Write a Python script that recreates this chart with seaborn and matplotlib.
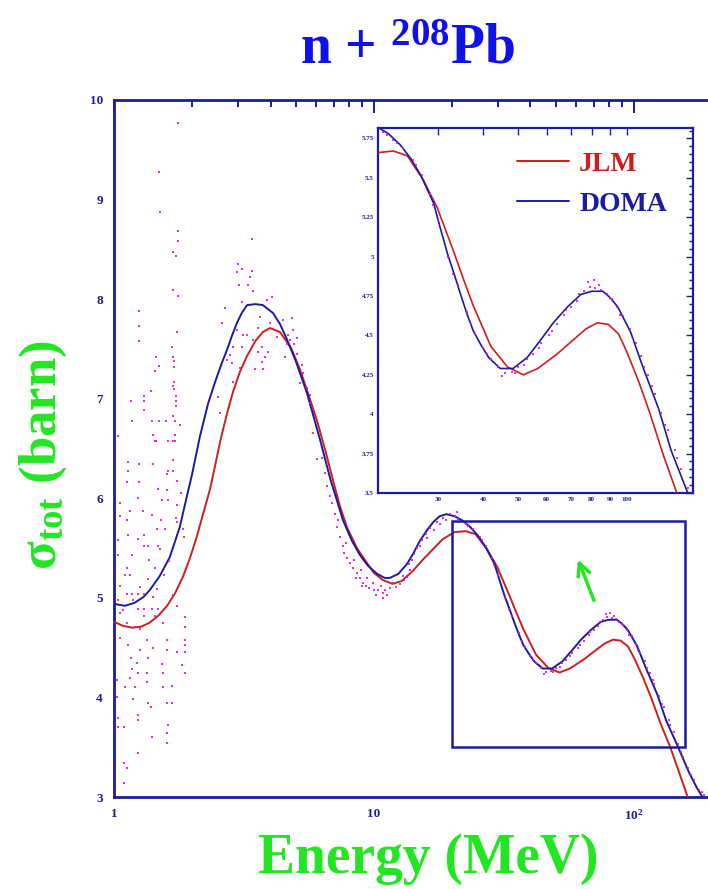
import matplotlib
matplotlib.use("Agg")
import numpy as np
import pandas as pd
import matplotlib.pyplot as plt
import seaborn as sns
from matplotlib.patches import Rectangle
from matplotlib.ticker import FixedLocator, MultipleLocator, NullFormatter

sns.set_style("white")
plt.rcParams["font.family"] = ["Liberation Serif", "DejaVu Serif"]
plt.rcParams["mathtext.fontset"] = "custom"
plt.rcParams["mathtext.rm"] = "Liberation Serif"
plt.rcParams["mathtext.bf"] = "Liberation Serif:bold"
plt.rcParams["mathtext.it"] = "Liberation Serif:italic"

NAVY = "#1c1ca0"
RED = "#cc2020"
GREEN = "#22e622"
MAGENTA = "#dc10dc"

# JLM calculation (red)
jlm_e = [1.0, 1.08, 1.18, 1.27, 1.37, 1.48, 1.6, 1.72, 1.84, 1.96, 2.08, 2.2, 2.34, 2.45,
         2.56, 2.72, 2.87, 3.05, 3.25, 3.5, 3.74, 3.98, 4.35, 4.8, 5.2, 5.6, 6.04, 6.5,
         6.96, 7.4, 7.87, 8.6, 9.4, 10.0, 10.8, 11.8, 12.8, 14.1, 15.5, 16.9, 18.4, 20.4,
         22.5, 24.6, 27.2, 29.8, 33.0, 35.2, 37.5, 42.0, 46.7, 51.7, 56.7, 64, 71, 77, 83,
         89, 95, 100, 108, 116, 127, 138, 150, 162]
jlm_s = [4.76, 4.72, 4.70, 4.71, 4.75, 4.82, 4.92, 5.05, 5.21, 5.40, 5.61, 5.84, 6.09, 6.33,
         6.57, 6.85, 7.07, 7.27, 7.43, 7.58, 7.67, 7.71, 7.67, 7.51, 7.29, 7.04, 6.78, 6.48,
         6.18, 5.92, 5.71, 5.50, 5.35, 5.25, 5.18, 5.14, 5.17, 5.27, 5.39, 5.49, 5.59, 5.66,
         5.67, 5.64, 5.49, 5.31, 5.04, 4.86, 4.69, 4.43, 4.30, 4.25, 4.29, 4.38, 4.47, 4.54, 4.58,
         4.57, 4.51, 4.40, 4.21, 4.01, 3.73, 3.50, 3.23, 2.98]

# DOMA calculation (blue)
doma_e = [1.0, 1.1, 1.2, 1.3, 1.375, 1.5, 1.64, 1.79, 1.88, 2.0, 2.14, 2.3, 2.45, 2.6, 2.72,
          2.85, 2.97, 3.1, 3.25, 3.5, 3.74, 4.09, 4.35, 4.62, 5.0, 5.52, 6.2, 6.8, 7.6, 8.2,
          8.83, 9.5, 10.3, 11.0, 11.5, 12.4, 13.4, 14.2, 15.0, 16.0, 16.9, 17.9, 19.0, 20.4,
          21.8, 23.5, 25.2, 26.9, 29.1, 30.4, 31.8, 33.2, 34.6, 36.0, 37.5, 39.4, 41.4, 44.6,
          48.4, 53, 57.7, 62.6, 68.5, 74.7, 80, 86, 90, 94.6, 102.7, 111, 123, 133, 148, 162,
          174, 193]
doma_s = [4.94, 4.92, 4.95, 5.01, 5.08, 5.22, 5.41, 5.71, 5.95, 6.25, 6.62, 6.95, 7.17, 7.36, 7.49,
          7.64, 7.76, 7.86, 7.94, 7.95, 7.94, 7.86, 7.75, 7.60, 7.38, 7.06, 6.59, 6.19, 5.78, 5.58,
          5.43, 5.32, 5.24, 5.20, 5.20, 5.24, 5.34, 5.45, 5.57, 5.68, 5.76, 5.82, 5.84, 5.82,
          5.78, 5.71, 5.62, 5.51, 5.34, 5.18, 5.02, 4.89, 4.76, 4.64, 4.53, 4.44, 4.36, 4.29,
          4.29, 4.36, 4.47, 4.58, 4.68, 4.76, 4.78, 4.78, 4.74, 4.68, 4.52, 4.30, 4.03, 3.77, 3.50, 3.26,
          3.10, 2.90]

# measured total cross sections (magenta points)
data_e = [
    1.76, 1.49, 1.50, 1.76, 1.76, 1.69, 1.73, 1.69, 1.76, 1.25, 1.25, 1.75, 1.25, 1.67,
    1.45, 1.69, 1.70, 1.49, 1.70, 1.44, 1.70, 1.69, 1.70, 1.39, 1.30, 1.73, 1.16, 1.30,
    1.73, 1.73, 1.30, 1.69, 1.17, 1.40, 1.49, 1.58, 1.72, 1.79, 1.04, 1.41, 1.72, 1.44,
    1.61, 1.72, 1.45, 1.69, 1.13, 1.25, 1.41, 1.69, 1.13, 1.61, 1.69, 1.60, 1.12, 1.25,
    1.75, 1.48, 1.60, 1.81, 1.24, 1.53, 1.61, 1.05, 1.75, 1.15, 1.29, 1.40, 1.05, 1.73,
    1.12, 1.52, 1.75, 1.46, 1.57, 1.84, 1.13, 1.30, 1.86, 1.24, 1.04, 1.31, 1.35, 1.48,
    1.50, 1.17, 1.04, 1.36, 1.63, 1.12, 1.44, 1.10, 1.15, 1.56, 1.35, 1.05, 1.26, 1.46,
    1.12, 1.17, 1.24, 1.30, 1.41, 1.69, 1.04, 1.18, 1.08, 1.24, 1.30, 1.40, 1.48, 1.75,
    1.05, 1.44, 1.30, 1.88, 1.12, 1.54, 1.20, 1.88, 1.26, 1.05, 1.34, 1.60, 1.88, 1.13,
    1.88, 1.41, 1.26, 1.60, 1.75, 1.88, 1.16, 1.35, 1.23, 1.53, 1.83, 1.17, 1.24, 1.34,
    1.54, 1.88, 1.15, 1.03, 1.34, 1.67, 1.10, 1.20, 1.54, 1.03, 1.18, 1.35, 1.60, 1.67,
    1.39, 1.24, 1.04, 1.24, 1.61, 1.04, 1.09, 1.40, 1.60, 1.60, 1.24, 1.09, 1.12, 1.09,
    3.39, 3.00, 3.10, 2.97, 3.39, 3.33, 3.02, 3.28, 3.42, 4.05, 3.87, 3.10, 2.67, 3.64,
    4.84, 4.47, 2.60, 3.98, 3.58, 2.97, 4.16, 4.88, 3.25, 3.14, 4.24, 4.67, 5.06, 3.42,
    2.87, 3.10, 3.71, 4.63, 3.58, 3.91, 2.79, 3.81, 4.55, 2.72, 2.84, 3.71, 3.05, 3.48,
    3.74, 5.29, 5.33, 5.19, 5.52, 2.51, 2.56, 5.67, 2.87, 4.75, 4.92, 5.06,
    5.3, 5.5, 5.67, 5.85, 6.04, 6.3, 6.5, 6.6, 6.77, 6.9, 7.1,
    7.2, 7.4, 7.6, 7.7, 7.9, 8.1, 8.3, 8.6, 8.8, 9.1, 9.3, 9.6, 10.0, 10.4, 10.8, 11.2,
    11.5, 12.2, 12.6, 13.0, 13.4, 13.8, 14.0, 14.6, 15.3, 15.9, 16.4, 17.5, 18.4, 19.6, 20.5,
    7.3, 7.8, 8.4, 8.9, 9.4, 9.9, 10.6, 11.0, 11.8, 12.9, 13.6, 14.3, 15.0, 16.0, 17.0,
    18.0, 19.0, 8.5, 9.0, 10.2, 10.8,
    21, 22.5, 24, 25.5, 27, 28.5, 30, 32, 34, 36, 38, 40, 42, 44, 46, 48, 50, 52, 55, 58,
    61, 64, 67, 70, 73, 76, 79, 82, 85, 88, 91, 94, 98, 102, 106, 110, 115, 120, 125, 130,
    136, 142, 148, 155, 162, 170, 178, 186,
    23, 26, 29, 33, 37, 41, 45, 49, 53, 57, 62, 68, 74, 78, 81, 84, 90, 96, 104, 112, 118,
    128, 138, 152, 166, 182, 20.8, 21.6]
data_s = [
    9.77, 9.28, 8.88, 8.68, 8.58, 8.47, 8.43, 8.09, 8.03, 7.88, 7.73, 7.67, 7.58, 7.52,
    7.42, 7.42, 7.38, 7.33, 7.32, 7.28, 7.17, 7.13, 7.10, 7.08, 7.03, 7.03, 6.98, 6.98,
    6.98, 6.93, 6.89, 6.83, 6.78, 6.78, 6.78, 6.78, 6.78, 6.74, 6.63, 6.64, 6.64, 6.58,
    6.58, 6.58, 6.58, 6.58, 6.36, 6.34, 6.34, 6.38, 6.27, 6.27, 6.27, 6.24, 6.16, 6.16,
    6.17, 6.09, 6.08, 6.05, 6.00, 5.98, 5.98, 5.95, 5.93, 5.87, 5.87, 5.83, 5.82, 5.80,
    5.78, 5.78, 5.76, 5.69, 5.69, 5.69, 5.63, 5.63, 5.61, 5.59, 5.58, 5.52, 5.52, 5.52,
    5.49, 5.43, 5.43, 5.38, 5.37, 5.30, 5.30, 5.23, 5.23, 5.23, 5.19, 5.12, 5.11, 5.09,
    5.04, 5.04, 5.04, 5.04, 5.01, 5.03, 4.98, 4.98, 4.88, 4.89, 4.89, 4.89, 4.89, 4.92,
    4.85, 4.82, 4.82, 4.81, 4.75, 4.75, 4.71, 4.71, 4.69, 4.60, 4.58, 4.58, 4.58, 4.53,
    4.53, 4.50, 4.48, 4.48, 4.46, 4.46, 4.40, 4.40, 4.35, 4.34, 4.33, 4.29, 4.25, 4.25,
    4.25, 4.25, 4.20, 4.18, 4.15, 4.11, 4.10, 4.10, 4.10, 4.00, 3.98, 3.94, 3.94, 3.94,
    3.90, 3.82, 3.79, 3.77, 3.72, 3.70, 3.70, 3.60, 3.64, 3.54, 3.44, 3.34, 3.29, 3.14,
    8.60, 8.35, 8.30, 8.27, 8.28, 8.22, 8.14, 8.14, 8.08, 8.02, 7.99, 7.97, 7.91, 7.82,
    7.81, 7.79, 7.76, 7.76, 7.71, 7.69, 7.69, 7.69, 7.64, 7.64, 7.62, 7.64, 7.61, 7.59,
    7.52, 7.52, 7.52, 7.55, 7.47, 7.47, 7.44, 7.42, 7.42, 7.39, 7.36, 7.37, 7.31, 7.30,
    7.30, 7.34, 7.26, 7.16, 7.11, 7.02, 6.86, 7.04, 7.17, 7.59, 7.55, 7.45,
    7.26, 7.12, 6.96, 6.66, 6.39, 6.40, 6.25, 6.12, 6.02, 5.95, 5.84,
    5.71, 5.61, 5.52, 5.45, 5.40, 5.35, 5.30, 5.25, 5.20, 5.15, 5.12, 5.10, 5.08, 5.08, 5.05, 5.03,
    5.10, 5.11, 5.14, 5.18, 5.21, 5.28, 5.38, 5.50, 5.58, 5.64, 5.70, 5.76, 5.80, 5.84, 5.82,
    5.78, 5.55, 5.38, 5.28, 5.20, 5.15, 5.12, 5.08, 5.15, 5.22, 5.34, 5.44, 5.52, 5.60, 5.68,
    5.74, 5.78, 5.20, 5.12, 5.03, 5.00,
    5.79, 5.74, 5.69, 5.61, 5.52, 5.40, 5.23, 5.00, 4.82, 4.65, 4.51, 4.42, 4.35, 4.30, 4.26,
    4.27, 4.30, 4.31, 4.38, 4.45, 4.50, 4.57, 4.63, 4.68, 4.72, 4.78, 4.81, 4.80, 4.79, 4.76,
    4.73, 4.68, 4.62, 4.54, 4.45, 4.37, 4.25, 4.13, 4.01, 3.90, 3.77, 3.65, 3.53, 3.40, 3.29,
    3.17, 3.07, 3.02,
    5.72, 5.58, 5.33, 4.89, 4.57, 4.38, 4.24, 4.26, 4.35, 4.42, 4.53, 4.66, 4.76, 4.84, 4.85,
    4.82, 4.74, 4.63, 4.48, 4.30, 4.18, 3.93, 3.72, 3.45, 3.22, 3.05, 5.86, 5.77]

inset_xlim = (20.4, 153)
inset_ylim = (3.5, 5.816)

data = pd.DataFrame({"energy": data_e, "sigma": data_s})
calc = pd.concat([
    pd.DataFrame({"energy": jlm_e, "sigma": jlm_s, "model": "JLM"}),
    pd.DataFrame({"energy": doma_e, "sigma": doma_s, "model": "DOMA"}),
], ignore_index=True)
palette = {"JLM": RED, "DOMA": NAVY}

fig = plt.figure(figsize=(7.08, 8.89), dpi=100)
ax = fig.add_axes([114 / 708, 92 / 889, 594 / 708, 697 / 889])


def draw(a, lw, ms):
    sns.lineplot(data=calc, x="energy", y="sigma", hue="model", palette=palette, ax=a,
                 sort=False, estimator=None, lw=lw, legend=False, zorder=3)
    sns.scatterplot(data=data, x="energy", y="sigma", ax=a, color=MAGENTA, marker="s",
                    s=ms, linewidth=0, alpha=0.85, legend=False, zorder=4)


draw(ax, 1.4, 3.5)
ax.set_xscale("log")
ax.set_xlim(1, 10 ** 2.285)
ax.set_ylim(3, 10)
ax.set_xlabel("")
ax.set_ylabel("")
ax.set_xticks([1, 10, 100])
ax.set_xticklabels(["1", "10", r"$\mathbf{10^{2}}$"])
ax.xaxis.set_minor_locator(FixedLocator([k * 10 ** d for d in range(3) for k in range(2, 10)]))
ax.xaxis.set_minor_formatter(NullFormatter())
ax.yaxis.set_major_locator(MultipleLocator(1))
ax.yaxis.set_minor_locator(MultipleLocator(0.2))
ax.tick_params(which="both", direction="in", top=True, right=False, color=NAVY,
               labelcolor=NAVY, labelsize=9.5, width=1.4)
ax.tick_params(which="major", length=9, pad=8)
ax.tick_params(which="minor", length=5)
for lab in ax.get_xticklabels() + ax.get_yticklabels():
    lab.set_fontweight("bold")
for side in ["left", "bottom", "top"]:
    ax.spines[side].set_color(NAVY)
    ax.spines[side].set_linewidth(2)
ax.spines["right"].set_visible(False)

ax.add_patch(Rectangle((inset_xlim[0] - 0.4, inset_ylim[0]), inset_xlim[1] + 5 - inset_xlim[0],
                       inset_ylim[1] - 0.04 - inset_ylim[0], fill=False, ec=NAVY, lw=1.8, zorder=5))

# green arrow pointing to the inset
ax.annotate("", xy=(577 / 708, (889 - 557) / 889), xytext=(595 / 708, (889 - 603) / 889),
            xycoords="figure fraction", textcoords="figure fraction",
            arrowprops=dict(arrowstyle="->", color=GREEN, lw=2.5, mutation_scale=22))

# inset
ins = fig.add_axes([378 / 708, 396 / 889, 315 / 708, 365 / 889])
draw(ins, 1.2, 3.5)
ins.set_xscale("log")
ins.set_xlim(*inset_xlim)
ins.set_ylim(*inset_ylim)
ins.set_xlabel("")
ins.set_ylabel("")
ins.xaxis.set_major_locator(FixedLocator([30, 40, 50, 60, 70, 80, 90, 100]))
ins.set_xticklabels(["30", "40", "50", "60", "70", "80", "90", "100"])
ins.xaxis.set_minor_locator(FixedLocator([]))
ins.yaxis.set_minor_locator(MultipleLocator(0.05))
ins.set_yticks(np.arange(3.5, 5.8, 0.25))
ins.set_yticklabels(["3.5", "3.75", "4", "4.25", "4.5", "4.75", "5", "5.25", "5.5", "5.75"])
ins.tick_params(which="both", direction="in", top=True, right=True, color=NAVY,
                labelcolor=NAVY, labelsize=5, width=1)
ins.tick_params(which="major", length=5, pad=3)
ins.tick_params(which="minor", length=3)
for lab in ins.get_xticklabels() + ins.get_yticklabels():
    lab.set_fontweight("bold")
for sp in ins.spines.values():
    sp.set_color(NAVY)
    sp.set_linewidth(1.6)

handles = [plt.Line2D([], [], color=RED, lw=1.4), plt.Line2D([], [], color=NAVY, lw=1.4)]
ins.legend(handles, ["JLM", "DOMA"], loc="upper left", bbox_to_anchor=(0.44, 0.935),
           frameon=False, labelcolor=[RED, NAVY], handlelength=1.9, handletextpad=0.35,
           labelspacing=0.5, borderpad=0, borderaxespad=0,
           prop={"family": "Liberation Serif", "weight": "bold", "size": 20})

fig.text(300 / 708, (889 - 63) / 889, r"n + $^{\mathbf{208}}$Pb", ha="left",
         va="baseline", color="#1010e8", fontsize=40, fontweight="bold")
fig.text(43 / 708, (889 - 455) / 889, r"$\mathbf{\sigma_{tot}}$ (barn)", rotation=90,
         ha="center", va="center", color=GREEN, fontsize=38, fontweight="bold")
fig.text(428 / 708, (889 - 873) / 889, "Energy (MeV)", ha="center", va="baseline",
         color=GREEN, fontsize=40, fontweight="bold")

fig.savefig("out.png", dpi=100)
